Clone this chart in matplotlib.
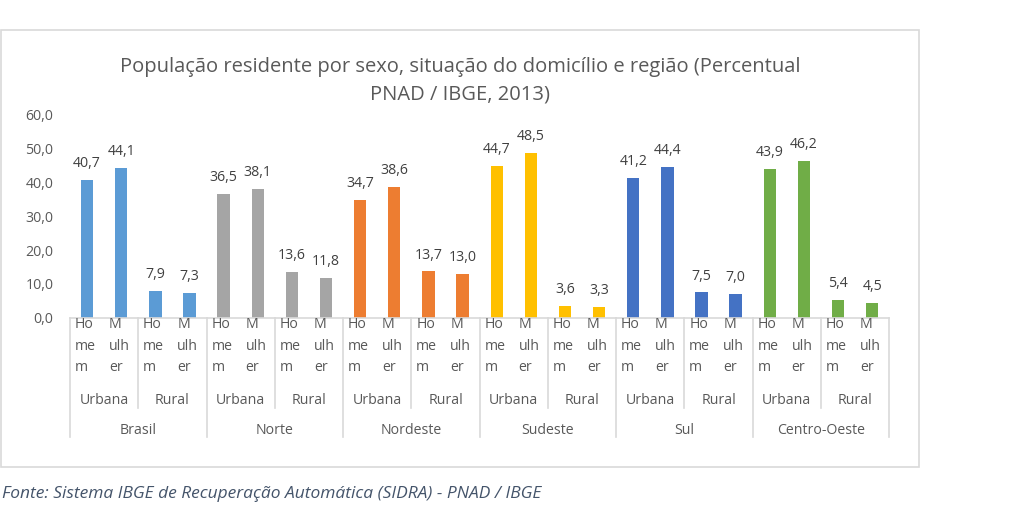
import matplotlib.pyplot as plt
from matplotlib.patches import Rectangle

regioes = ["Brasil", "Norte", "Nordeste", "Sudeste", "Sul", "Centro-Oeste"]
situacoes = ["Urbana", "Rural"]
sexos = ["Ho\nme\nm", "M\nulh\ner"]

# Homem/Mulher por situação (Urbana, Rural), por região
valores = {
    "Brasil": [40.7, 44.1, 7.9, 7.3],
    "Norte": [36.5, 38.1, 13.6, 11.8],
    "Nordeste": [34.7, 38.6, 13.7, 13.0],
    "Sudeste": [44.7, 48.5, 3.6, 3.3],
    "Sul": [41.2, 44.4, 7.5, 7.0],
    "Centro-Oeste": [43.9, 46.2, 5.4, 4.5],
}
cores = ["#5B9BD5", "#A5A5A5", "#ED7D31", "#FFC000", "#4472C4", "#70AD47"]

plt.rcParams["font.family"] = ["Open Sans", "DejaVu Sans"]
txt = "#595959"
linha = "#D9D9D9"
fs = 10.2

fig = plt.figure(figsize=(10.24, 5.12), dpi=100, facecolor="white")
fig.patches.append(Rectangle((0.001, 0.088), 0.896, 0.853, transform=fig.transFigure,
                             fill=False, edgecolor="#D9D9D9", lw=1.2))
ax = fig.add_axes([0.0684, 0.379, 0.8000, 0.398])

for r, reg in enumerate(regioes):
    for k, v in enumerate(valores[reg]):
        x = r * 4 + k
        ax.bar(x, v, width=0.36, color=cores[r], zorder=2)
        ax.text(x, v + 2.6, f"{v:.1f}".replace(".", ","), ha="center", va="bottom",
                fontsize=fs, color="#404040")

n = len(regioes) * 4
ax.set_xlim(-0.5, n - 0.5)
ax.set_ylim(0, 60)
ax.set_yticks(range(0, 61, 10))
ax.set_yticklabels([f"{t},0" for t in range(0, 61, 10)], fontsize=fs, color=txt)
ax.tick_params(axis="y", length=0, pad=12)
ax.set_xticks([])
for s in ["top", "right", "left"]:
    ax.spines[s].set_visible(False)
ax.spines["bottom"].set_color(linha)
ax.spines["bottom"].set_linewidth(1.2)

tr = ax.get_xaxis_transform()
px = 1 / (0.398 * 512)  # one pixel in axes-y units
for i in range(n):
    ax.text(i - 0.36, 1 * px, sexos[i % 2], transform=tr, ha="left", va="top",
            fontsize=fs, color=txt, linespacing=1.6)
for j in range(n // 2):
    ax.text(j * 2 + 0.5, -83 * px, situacoes[j % 2], transform=tr, ha="center",
            va="center", fontsize=fs, color=txt)
for r, reg in enumerate(regioes):
    ax.text(r * 4 + 1.5, -113 * px, reg, transform=tr, ha="center", va="center",
            fontsize=fs, color=txt)
# separadores
for j in range(n // 2 + 1):
    x = j * 2 - 0.5
    fim = -119 * px if j % 2 == 0 else -90 * px
    ax.plot([x, x], [0, fim], transform=tr, color=linha, lw=1.2, clip_on=False)

fig.text(0.449, 0.843, "População residente por sexo, situação do domicílio e região (Percentual\nPNAD / IBGE, 2013)",
         ha="center", va="center", fontsize=14.5, color=txt, linespacing=1.5)
fig.text(0.002, 0.035, "Fonte: Sistema IBGE de Recuperação Automática (SIDRA) - PNAD / IBGE",
         ha="left", va="center", fontsize=12.5, style="italic", color="#44546A")

fig.savefig("out.png", dpi=100, facecolor="white")
